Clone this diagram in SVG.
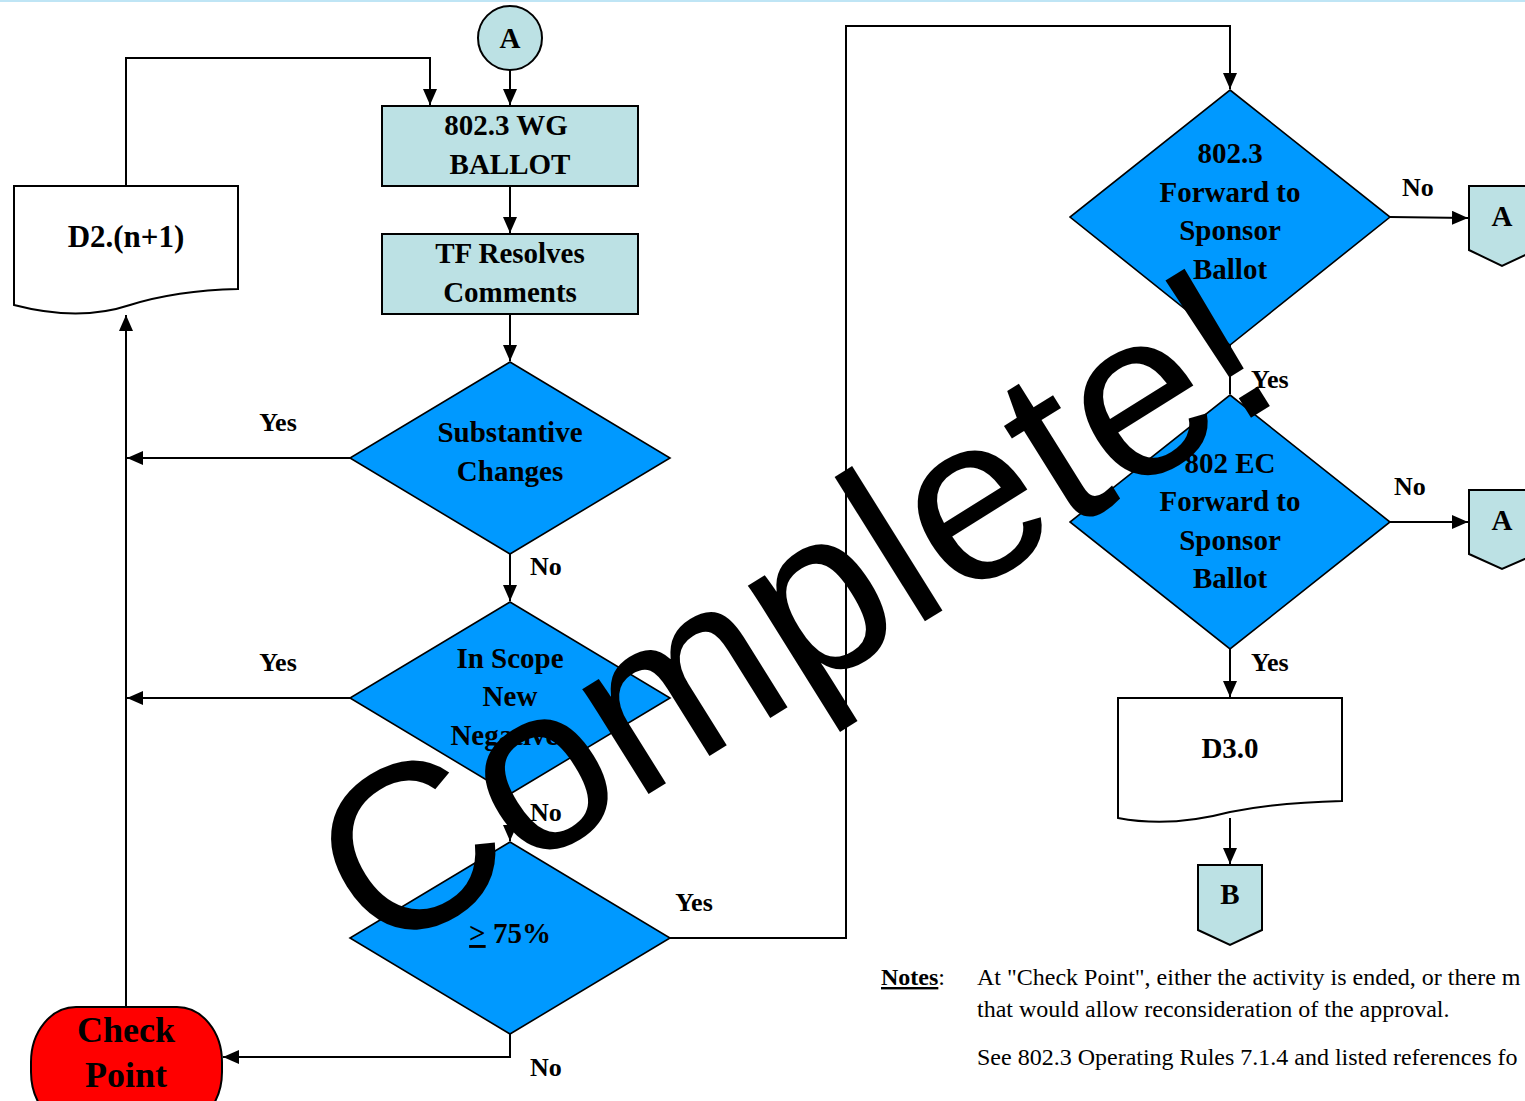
<svg xmlns="http://www.w3.org/2000/svg" width="1525" height="1101" viewBox="0 0 1525 1101">
<style>
.lbl{font-family:"Liberation Serif",serif;font-weight:bold;font-size:26px;fill:#000}
.nt{font-family:"Liberation Serif",serif;font-weight:bold;font-size:29px;fill:#000;text-anchor:middle}
.proc{fill:#bce1e4;stroke:#000;stroke-width:2}
.dec{fill:#0099ff;stroke:#000;stroke-width:1.6}
.doc{fill:#fff;stroke:#000;stroke-width:2}
.conn{fill:none;stroke:#000;stroke-width:2}
.note{font-family:"Liberation Serif",serif;font-size:24px;fill:#000}
</style>
<defs>
<marker id="ah" markerUnits="userSpaceOnUse" markerWidth="16" markerHeight="14" viewBox="0 0 16 14" refX="16" refY="7" orient="auto">
<path d="M0,0 L16,7 L0,14 z" fill="#000"/>
</marker>
</defs>
<rect x="0" y="0" width="1525" height="1101" fill="#fff"/>
<line x1="0" y1="1" x2="1525" y2="1" stroke="#bfe5f5" stroke-width="2"/>

<g id="connectors">
<path class="conn" d="M510,70 L510,105" marker-end="url(#ah)"/>
<path class="conn" d="M126,186 L126,58 L430,58 L430,105" marker-end="url(#ah)"/>
<path class="conn" d="M510,186 L510,233" marker-end="url(#ah)"/>
<path class="conn" d="M510,314 L510,361" marker-end="url(#ah)"/>
<path class="conn" d="M350,458 L127,458" marker-end="url(#ah)"/>
<path class="conn" d="M510,554 L510,601" marker-end="url(#ah)"/>
<path class="conn" d="M350,698 L127,698" marker-end="url(#ah)"/>
<path class="conn" d="M510,794 L510,841" marker-end="url(#ah)"/>
<path class="conn" d="M670,938 L846,938 L846,26 L1230,26 L1230,89" marker-end="url(#ah)"/>
<path class="conn" d="M510,1034 L510,1057 L223,1057" marker-end="url(#ah)"/>
<path class="conn" d="M126,1007 L126,315" marker-end="url(#ah)"/>
<path class="conn" d="M1390,217 L1468,218" marker-end="url(#ah)"/>
<path class="conn" d="M1230,345 L1230,394"/>
<path class="conn" d="M1390,522 L1468,522" marker-end="url(#ah)"/>
<path class="conn" d="M1230,649 L1230,697" marker-end="url(#ah)"/>
<path class="conn" d="M1230,818 L1230,864" marker-end="url(#ah)"/>
<text class="lbl" x="278" y="431" text-anchor="middle">Yes</text>
<text class="lbl" x="530" y="575">No</text>
<text class="lbl" x="278" y="671" text-anchor="middle">Yes</text>
<text class="lbl" x="530" y="821">No</text>
<text class="lbl" x="694" y="911" text-anchor="middle">Yes</text>
<text class="lbl" x="530" y="1076">No</text>
<text class="lbl" x="1402" y="196">No</text>
<text class="lbl" x="1251" y="388">Yes</text>
<text class="lbl" x="1394" y="495">No</text>
<text class="lbl" x="1251" y="671">Yes</text>
</g>

<g id="conn-A-top">
<circle cx="510" cy="38" r="32" class="proc"/>
<text class="nt" x="510" y="48">A</text>
</g>
<g id="wg-ballot">
<rect x="382" y="106" width="256" height="80" class="proc"/>
<text class="nt" x="506" y="135">802.3 WG</text>
<text class="nt" x="510" y="174">BALLOT</text>
</g>
<g id="tf-resolves">
<rect x="382" y="234" width="256" height="80" class="proc"/>
<text class="nt" x="510" y="263">TF Resolves</text>
<text class="nt" x="510" y="302">Comments</text>
</g>
<g id="d2">
<path class="doc" d="M14,186 L238,186 L238,289 C200,290 165,294 130,305 C100,315 60,317 14,305 Z"/>
<text class="nt" x="126" y="247" style="font-size:31px">D2.(n+1)</text>
</g>
<g id="substantive">
<polygon class="dec" points="510,362 670,458 510,554 350,458"/>
<text class="nt" x="510" y="442">Substantive</text>
<text class="nt" x="510" y="481">Changes</text>
</g>
<g id="inscope">
<polygon class="dec" points="510,602 670,698 510,794 350,698"/>
<text class="nt" x="510" y="668">In Scope</text>
<text class="nt" x="510" y="706">New</text>
<text class="nt" x="510" y="745">Negatives</text>
</g>
<g id="pct75">
<polygon class="dec" points="510,842 670,938 510,1034 350,938"/>
<text class="nt" x="510" y="943"><tspan text-decoration="underline">&gt;</tspan> 75%</text>
</g>
<g id="checkpoint">
<rect x="31" y="1007" width="191" height="120" rx="45" ry="55" fill="#ff0000" stroke="#000" stroke-width="2"/>
<text class="nt" x="126" y="1042" style="font-size:36px">Check</text>
<text class="nt" x="126" y="1087" style="font-size:36px">Point</text>
</g>
<g id="fwd-8023">
<polygon class="dec" points="1230,90 1390,217 1230,345 1070,217"/>
<text class="nt" x="1230" y="163">802.3</text>
<text class="nt" x="1230" y="202">Forward to</text>
<text class="nt" x="1230" y="240">Sponsor</text>
<text class="nt" x="1230" y="279">Ballot</text>
</g>
<g id="conn-A-1">
<polygon class="proc" points="1469,186 1536,186 1536,250 1502,266 1469,250"/>
<text class="nt" x="1502" y="226">A</text>
</g>
<g id="fwd-802ec">
<polygon class="dec" points="1230,395 1390,522 1230,649 1070,522"/>
<text class="nt" x="1230" y="473">802 EC</text>
<text class="nt" x="1230" y="511">Forward to</text>
<text class="nt" x="1230" y="550">Sponsor</text>
<text class="nt" x="1230" y="588">Ballot</text>
</g>
<g id="conn-A-2">
<polygon class="proc" points="1469,490 1536,490 1536,554 1502,569 1469,554"/>
<text class="nt" x="1502" y="530">A</text>
</g>
<g id="d3">
<path class="doc" d="M1118,698 L1342,698 L1342,801 C1300,802 1260,806 1230,812 C1200,820 1160,826 1118,818 Z"/>
<text class="nt" x="1230" y="758">D3.0</text>
</g>
<g id="conn-B">
<polygon class="proc" points="1198,865 1262,865 1262,930 1230,945 1198,930"/>
<text class="nt" x="1230" y="904">B</text>
</g>
<g id="notes">
<text class="note" x="881" y="985"><tspan font-weight="bold" text-decoration="underline">Notes</tspan>:</text>
<text class="note" x="977" y="985">At "Check Point", either the activity is ended, or there m</text>
<text class="note" x="977" y="1017">that would allow reconsideration of the approval.</text>
<text class="note" x="977" y="1065">See 802.3 Operating Rules 7.1.4 and listed references fo</text>
</g>
<g id="watermark">
<text x="380" y="962" transform="rotate(-32 380 962)" style="font-family:'Liberation Sans',Arial,sans-serif;font-size:235px;fill:#000">Complete!</text>
</g>
</svg>
